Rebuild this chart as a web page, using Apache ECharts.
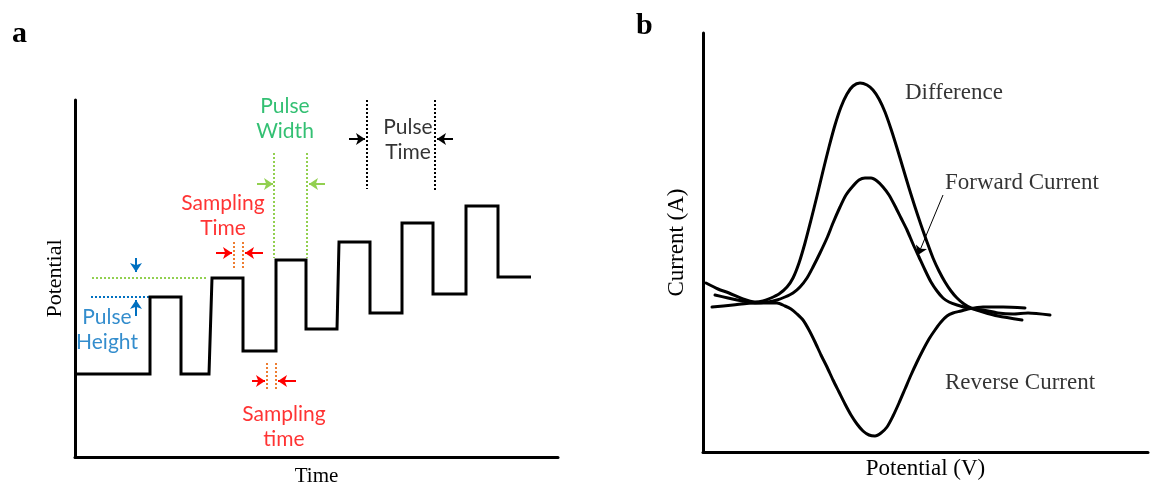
<!DOCTYPE html>
<html><head><meta charset="utf-8">
<script src="https://cdn.jsdelivr.net/npm/echarts@6/dist/echarts.min.js"></script>
<style>html,body{margin:0;padding:0;background:#fff}#c{width:1152px;height:487px}</style>
</head><body><div id="c"></div>
<script>
// ---------- Panel a: pulse staircase (time, potential) ----------
const stepTime      = [0, 75, 75, 106, 106, 134, 137, 168, 168, 201, 201, 231, 231, 262, 264, 295, 295, 327, 327, 358, 358, 391, 391, 423, 423, 456];
const stepPotential = [83, 83, 160, 160, 83, 83, 179, 179, 106, 106, 197, 197, 128, 128, 215, 215, 144, 144, 234, 234, 163, 163, 251, 251, 180, 180];

// annotation guide lines (data units of panel a)
const greenGuides  = [[[199, 304], [199, 199]], [[232, 304], [232, 199]], [[17, 179], [132, 179]]];
const blueGuides   = [[[16, 160], [75, 160]]];
const blackGuides  = [[[292, 357], [292, 268]], [[360, 365], [360, 266]]];
const orangeGuides = [[[159, 215], [159, 189]], [[168, 215], [168, 189]], [[192, 94], [192, 67]], [[201, 94], [201, 67]]];
const greenArrows  = [[[182, 273], [198, 273]], [[250, 273], [234, 273]]];
const blackArrows  = [[[274, 318], [290, 318]], [[378, 318], [362, 318]]];
const redArrows    = [[[141, 204], [157, 204]], [[188, 204], [170, 204]], [[177, 76], [190, 76]], [[221, 76], [203, 76]]];
const blueArrows   = [[[61, 199], [61, 185]], [[61, 141], [61, 157]]];
const labelsA = [
  {name: 'Pulse\nWidth',   value: [210, 338], color: '#00B050'},
  {name: 'Pulse\nTime',    value: [333, 317], color: '#000000'},
  {name: 'Sampling\nTime', value: [148, 241], color: '#FF0000'},
  {name: 'Sampling\ntime', value: [209, 30],  color: '#FF0000'},
  {name: 'Pulse\nHeight',  value: [32, 127],  color: '#0070C0'}
];

// ---------- Panel b: square-wave voltammetry curves (potential, current) ----------
const differenceCurve = [[3,22],[15,16],[26,12],[40,6],[52,3],[60,4],[68,7],[76,11],[84,18],[90,27],[96,42],[102,62],[108,85],[114,109],[120,134],[126,158],[132,180],[138,198],[144,211],[150,219],[157,222],[164,220],[170,215],[176,206],[182,193],[188,176],[194,157],[200,137],[206,117],[212,98],[218,80],[224,63],[230,47],[236,34],[242,23],[248,14],[254,7],[261,1],[268,-3],[280,-7],[295,-11],[319,-15]];
const forwardCurve = [[12,10],[25,7],[39,4],[52,2],[65,3],[74,5],[82,8],[90,12],[97,18],[104,27],[110,38],[117,52],[124,67],[130,82],[137,98],[143,110],[150,119],[156,125],[162,127],[168,127],[174,124],[180,118],[186,110],[192,99],[198,87],[204,75],[210,61],[216,48],[222,35],[228,23],[234,14],[240,7],[246,3],[254,0],[265,-3],[280,-5],[295,-8],[310,-9],[325,-8],[347,-10]];
const reverseCurve = [[9,-2],[30,0],[52,2],[74,2],[82,-1],[88,-4],[94,-9],[100,-15],[106,-25],[112,-37],[118,-50],[124,-62],[130,-75],[136,-87],[142,-99],[148,-110],[154,-119],[160,-126],[166,-130],[172,-131],[178,-128],[184,-122],[190,-111],[196,-98],[202,-84],[208,-70],[214,-57],[220,-45],[226,-34],[232,-25],[238,-17],[244,-11],[250,-8],[258,-6],[265,-4],[280,-2],[300,-2],[322,-3]];
const pointerArrow = [[[240, 110], [215, 50]]];
const labelsB = [
  {name: 'Difference',      value: [202, 212]},
  {name: 'Forward Current', value: [242, 122]},
  {name: 'Reverse Current', value: [242, -78]}
];

const sansFont = 'Lato';
const serifFont = 'Liberation Serif';

function zip(xs, ys) { return xs.map((x, i) => [x, ys[i]]); }
function segs(list, color, type, width, arrow, idx) {
  return {
    type: 'lines', coordinateSystem: 'cartesian2d', xAxisIndex: idx, yAxisIndex: idx,
    silent: true, animation: false,
    symbol: arrow ? ['none', 'arrow'] : ['none', 'none'], symbolSize: arrow ? 9 : 0,
    lineStyle: {color: color, type: type, width: width, opacity: 1},
    data: list.map(c => ({coords: c}))
  };
}
function axisCommon(extra) {
  return Object.assign({
    type: 'value',
    axisLine: {show: true, onZero: false, lineStyle: {color: '#000', width: 3}},
    axisTick: {show: false}, axisLabel: {show: false}, splitLine: {show: false},
    nameLocation: 'middle', nameTextStyle: {fontFamily: serifFont, color: '#000'}
  }, extra);
}
function curve(data) {
  return {type: 'line', xAxisIndex: 1, yAxisIndex: 1, data: data, smooth: 0.25, symbol: 'none', silent: true,
          lineStyle: {color: '#000', width: 3, join: 'round', cap: 'round'}};
}

const chart = echarts.init(document.getElementById('c'), null, {renderer: 'canvas'});
chart.setOption({
  backgroundColor: '#fff',
  animation: false,
  title: [
    {text: 'a', left: 7, top: 14, textStyle: {fontFamily: serifFont, fontWeight: 'bold', fontSize: 30, color: '#000'}},
    {text: 'b', left: 631, top: 6, textStyle: {fontFamily: serifFont, fontWeight: 'bold', fontSize: 30, color: '#000'}}
  ],
  grid: [
    {left: 75, top: 100, right: 594, bottom: 30, containLabel: false, outerBoundsMode: 'none'},
    {left: 703, top: 33, right: 4, bottom: 35, containLabel: false, outerBoundsMode: 'none'}
  ],
  xAxis: [
    axisCommon({gridIndex: 0, min: 0, max: 483, name: 'Time', nameGap: 9, nameTextStyle: {fontFamily: serifFont, fontSize: 21, color: '#000'}}),
    axisCommon({gridIndex: 1, min: 0, max: 445, name: 'Potential (V)', nameGap: 5, nameTextStyle: {fontFamily: serifFont, fontSize: 23, color: '#000'}})
  ],
  yAxis: [
    axisCommon({gridIndex: 0, min: 0, max: 357, name: 'Potential', nameGap: 9, nameTextStyle: {fontFamily: serifFont, fontSize: 22, color: '#000'}}),
    axisCommon({gridIndex: 1, min: -147, max: 272, name: 'Current (A)', nameGap: 15, nameTextStyle: {fontFamily: serifFont, fontSize: 23, color: '#000'}})
  ],
  series: [
    {type: 'line', xAxisIndex: 0, yAxisIndex: 0, data: zip(stepTime, stepPotential), symbol: 'none', silent: true,
     lineStyle: {color: '#000', width: 3, join: 'miter'}},
    segs(greenGuides, '#92D050', [2, 2], 2, false, 0),
    segs(blueGuides, '#0070C0', [2, 2], 2, false, 0),
    segs(blackGuides, '#000000', [2, 2], 2, false, 0),
    segs(orangeGuides, '#ED7D31', [2, 2], 2, false, 0),
    segs(greenArrows, '#92D050', 'solid', 2, true, 0),
    segs(blackArrows, '#000000', 'solid', 2, true, 0),
    segs(redArrows, '#FF0000', 'solid', 2, true, 0),
    segs(blueArrows, '#0070C0', 'solid', 2, true, 0),
    {type: 'scatter', xAxisIndex: 0, yAxisIndex: 0, symbolSize: 0, clip: false, silent: true,
     data: labelsA.map(d => ({name: d.name, value: d.value, label: {color: d.color}})),
     label: {show: true, position: 'inside', formatter: p => p.name, fontFamily: sansFont, fontSize: 21, lineHeight: 25, align: 'center', verticalAlign: 'middle'}},
    curve(differenceCurve),
    curve(forwardCurve),
    curve(reverseCurve),
    segs(pointerArrow, '#000000', 'solid', 1, true, 1),
    {type: 'scatter', xAxisIndex: 1, yAxisIndex: 1, symbolSize: 0, clip: false, silent: true,
     data: labelsB,
     label: {show: true, position: 'right', distance: 0, formatter: p => p.name, fontFamily: serifFont, fontSize: 23, color: '#000'}}
  ]
});
</script></body></html>
